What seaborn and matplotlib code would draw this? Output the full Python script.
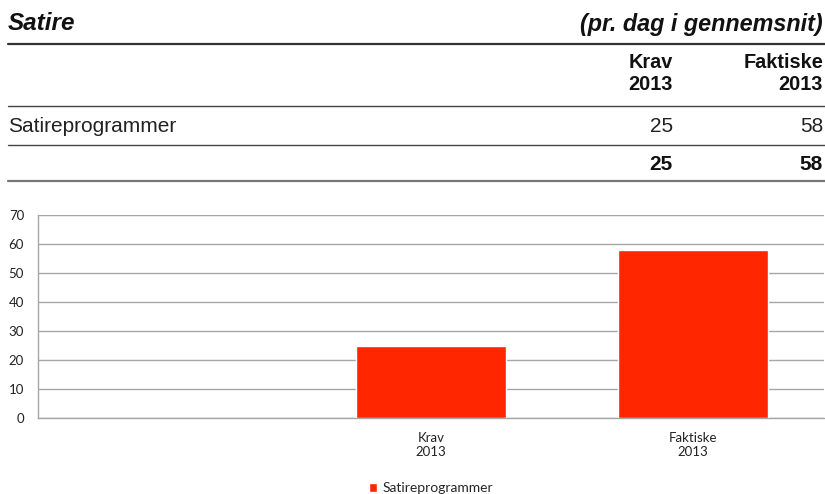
import matplotlib.pyplot as plt
import numpy as np
import pandas as pd
import seaborn as sns
from matplotlib.lines import Line2D

# data
categories = ["", "Krav\n2013", "Faktiske\n2013"]
series_name = "Satireprogrammer"
krav_2013 = 25
faktiske_2013 = 58
bar_categories = ["Krav\n2013", "Faktiske\n2013"]
bar_values = [krav_2013, faktiske_2013]
y_ticks = [0, 10, 20, 30, 40, 50, 60, 70]

W, H = 825, 494

sns.set_theme(style="white")
plt.rcParams["font.family"] = ["Liberation Sans", "DejaVu Sans"]

fig = plt.figure(figsize=(W / 100, H / 100), dpi=100)


def fx(px):
    return px / W


def fy(py):
    return 1 - py / H


def hline(py, lw=1.0, color="#444444"):
    fig.add_artist(Line2D([fx(8), fx(825)], [fy(py), fy(py)], lw=lw, color=color,
                          transform=fig.transFigure))


# table part
fig.text(fx(8), fy(24), "Satire", fontsize=17.5, fontweight="bold", style="italic",
         ha="left", va="center", color="#111111")
fig.text(fx(823), fy(24), "(pr. dag i gennemsnit)", fontsize=16.8, fontweight="bold",
         style="italic", ha="right", va="center", color="#111111")
hline(44, lw=1.6, color="#333333")

col_x = [673, 823]
for x, head in zip(col_x, ["Krav", "Faktiske"]):
    fig.text(fx(x), fy(63), head, fontsize=14.3, fontweight="bold", ha="right",
             va="center", color="#111111")
    fig.text(fx(x), fy(85), "2013", fontsize=14.3, fontweight="bold", ha="right",
             va="center", color="#111111")
hline(106)

fig.text(fx(8), fy(127), series_name, fontsize=15, ha="left", va="center",
         color="#222222")
for x, v in zip(col_x, bar_values):
    fig.text(fx(x), fy(127), str(v), fontsize=15, ha="right", va="center",
             color="#222222")
hline(145)

for x, v in zip(col_x, bar_values):
    fig.text(fx(x), fy(164), str(v), fontsize=15, fontweight="bold", ha="right",
             va="center", color="#111111")
hline(181, lw=1.6, color="#777777")

# chart part
ax = fig.add_axes([fx(38), fy(418), fx(824) - fx(38), (418 - 215) / H])
df = pd.DataFrame({"Kategori": bar_categories, "Værdi": bar_values})
sns.barplot(data=df, x="Kategori", y="Værdi", order=categories, color="#FF2600",
            width=0.57, edgecolor="white", linewidth=1, saturation=1,
            label=series_name, ax=ax, zorder=3)

ax.set_ylim(0, 70)
ax.set_yticks(y_ticks)
ax.set_xlim(-0.5, len(categories) - 0.5)
ax.grid(axis="y", color="#A6A6A6", lw=1, zorder=0)
ax.set_axisbelow(True)
for s in ["top", "right"]:
    ax.spines[s].set_visible(False)
for s in ["left", "bottom"]:
    ax.spines[s].set_color("#A6A6A6")
    ax.spines[s].set_linewidth(1)
ax.set_xlabel("")
ax.set_ylabel("")
ax.tick_params(axis="both", length=0, labelsize=9.5, colors="#222222")
ax.tick_params(axis="y", pad=10)
ax.tick_params(axis="x", pad=10)
for lab in ax.get_xticklabels() + ax.get_yticklabels():
    lab.set_fontfamily(["Lato", "DejaVu Sans"])

leg = ax.legend(loc="center", bbox_to_anchor=(0.5, (418 - 488) / (418 - 215)),
                frameon=False, handlelength=0.6, handleheight=0.6, handletextpad=0.4,
                prop={"family": "Lato", "size": 10})

fig.savefig("out.png", dpi=100)
